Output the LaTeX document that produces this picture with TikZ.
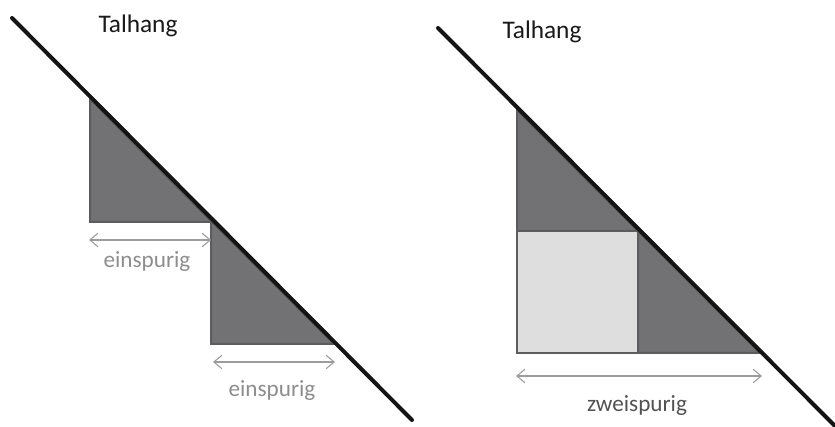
\documentclass[tikz,border=0pt]{standalone}
\usepackage{fontspec}
\setmainfont{Carlito}
\usetikzlibrary{arrows.meta,calc}
\definecolor{hangfill}{HTML}{727274}
\definecolor{hangdraw}{HTML}{5C5C5E}
\definecolor{spurfill}{HTML}{DEDEDE}
\definecolor{masscol}{HTML}{9C9C9C}
\tikzset{
  hang/.style={
    line width=3pt,
    draw=black!92,
    line cap=round
  },
  keil/.style={
    draw=hangdraw,
    fill=hangfill,
    line width=1.5pt,
    line join=miter
  },
  spur/.style={
    draw=hangdraw,
    fill=spurfill,
    line width=1.5pt
  },
  mass/.style={
    draw=masscol,
    line width=0.8pt,
    {Straight Barb[length=6pt,width=10pt]}-{Straight Barb[length=6pt,width=10pt]}
  },
  titel/.style={
    font=\fontsize{19}{22}\selectfont,
    text=black!90
  },
  breite/.style={
    font=\fontsize{17.4}{20}\selectfont,
    inner sep=0pt
  }
}

\begin{document}
\begin{tikzpicture}[x=0.75pt,y=-0.75pt]
    \useasboundingbox (0,0) rectangle (835,427);
    % linke Skizze
    \draw[keil] (90,99) -- (90,222) -- (212,222) -- cycle;
    \draw[keil] (211,221) -- (211,344) -- (334,344) -- cycle;
    \coordinate (l1) at (12,18);
    \coordinate (l2) at (412,420);
    \draw[hang] (l1) -- (l2);
    \node[titel] (talL) at (138,26) {Talhang};
    \coordinate (a1) at (89,240);
    \coordinate (a2) at (211,240);
    \draw[mass] (a1) -- (a2);
    \node[breite,text=masscol!90!black] (ein1) at (147,262) {einspurig};
    \coordinate (b1) at (213,362);
    \coordinate (b2) at (335,362);
    \draw[mass] (b1) -- (b2);
    \node[breite,text=masscol!90!black] (ein2) at (272,391) {einspurig};
    % rechte Skizze
    \draw[keil] (517,110) -- (517,231) -- (638,231) -- cycle;
    \draw[keil] (638,231) -- (638,353) -- (760,353) -- cycle;
    \draw[spur] (517,231) rectangle (638,353);
    \coordinate (r1) at (438,28);
    \coordinate (r2) at (835,426);
    \draw[hang] (r1) -- (r2);
    \node[titel] (talR) at (542,32) {Talhang};
    \coordinate (c1) at (516,376);
    \coordinate (c2) at (762,376);
    \draw[mass] (c1) -- (c2);
    \node[breite,text=black!68] (zwei) at (637,406) {zweispurig};
\end{tikzpicture}
\end{document}
